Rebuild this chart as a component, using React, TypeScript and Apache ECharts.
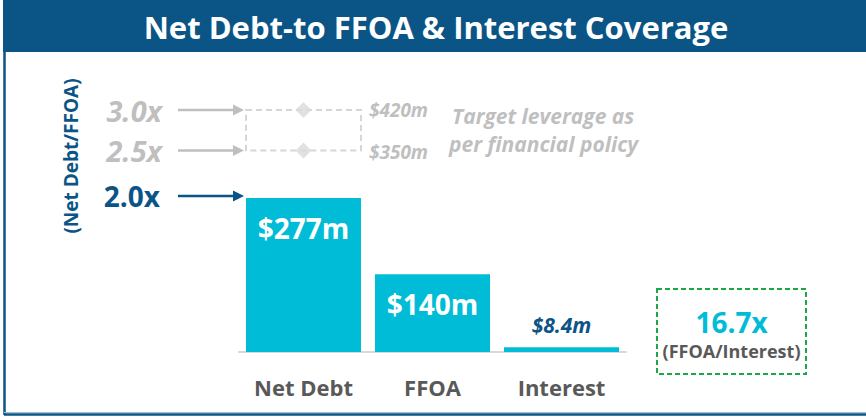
import React, { useEffect, useRef } from "react";
import * as echarts from "echarts";

const categories = ["Net Debt", "FFOA", "Interest"];
const values = [277, 140, 8.4];
const barLabels = ["$277m", "$140m", "$8.4m"];
const targetRatios = [3.0, 2.5];
const targetRatioLabels = ["3.0x", "2.5x"];
const targetAmountLabels = ["$420m", "$350m"];
const currentRatioLabel = "2.0x";
const coverageLabel = "16.7x";
const coverageCaption = "(FFOA/Interest)";
const titleText = "Net Debt-to FFOA & Interest Coverage";
const axisTitle = "(Net Debt/FFOA)";
const noteLines = ["Target leverage as", "per financial policy"];

const FONT = "'Open Sans', sans-serif";
const BLUE = "#0b5586";
const CYAN = "#00bcd6";
const GREY = "#bfbfbf";
const DARK = "#595959";

export default function App() {
  const ref = useRef<HTMLDivElement>(null);
  useEffect(() => {
    if (!ref.current) return;
    const chart = echarts.init(ref.current, undefined, { renderer: "svg" });
    chart.setOption({
      animation: false,
      grid: { left: 239, right: 240, top: 102, bottom: 66 },
      xAxis: {
        type: "category",
        data: categories,
        axisLine: { lineStyle: { color: "#d9d9d9", width: 2 } },
        axisTick: { show: false },
        axisLabel: { color: DARK, fontSize: 22, fontWeight: "bold", fontFamily: FONT, margin: 24 },
      },
      yAxis: [
        { type: "value", min: 0, max: 450, show: false, splitLine: { show: false } },
        { type: "value", min: 0, max: 3.1, show: false, splitLine: { show: false } },
      ],
      series: [
        {
          type: "bar",
          barWidth: 115,
          data: values.map((v, i) => ({
            value: v,
            label:
              i < 2
                ? { show: true, position: "insideTop", distance: 16, formatter: barLabels[i], color: "#fff", fontSize: 28, fontWeight: "bold", fontFamily: FONT }
                : { show: true, position: "top", distance: 12, formatter: barLabels[i], color: BLUE, fontSize: 21, fontWeight: "bold", fontStyle: "italic", fontFamily: FONT },
          })),
          itemStyle: { color: CYAN },
        },
        {
          type: "scatter",
          yAxisIndex: 1,
          symbol: "diamond",
          symbolSize: 16,
          clip: false,
          itemStyle: { color: "#d9d9d9" },
          data: targetRatios.map((r) => [categories[0], r]),
          z: 5,
        },
      ],
    });

    const p = (cat: string, v: number, yi = 0) =>
      chart.convertToPixel({ xAxisIndex: 0, yAxisIndex: yi }, [cat, v]) as number[];
    const c0 = p(categories[0], values[0]);
    const half = 57.5;
    const boxL = c0[0] - half;
    const boxR = c0[0] + half;
    const yT = targetRatios.map((r) => p(categories[0], r, 1)[1]);
    const yCur = c0[1] - 2;

    const arrow = (y: number, color: string, x1: number, x2: number) => [
      { type: "line", shape: { x1, y1: y, x2: x2 - 9, y2: y }, style: { stroke: color, lineWidth: 2.5 } },
      { type: "polygon", shape: { points: [[x2 - 11, y - 5.5], [x2, y], [x2 - 11, y + 5.5]] }, style: { fill: color } },
    ];

    const graphic: any[] = [
      { type: "rect", shape: { x: 3, y: 0, width: 863, height: 52 }, style: { fill: BLUE } },
      { type: "text", x: 436, y: 27, style: { text: titleText, fill: "#fff", font: `bold 31px ${FONT}`, align: "center", verticalAlign: "middle" } },
      { type: "line", shape: { x1: 4.5, y1: 52, x2: 4.5, y2: 415 }, style: { stroke: BLUE, lineWidth: 2.5 } },
      { type: "line", shape: { x1: 4, y1: 414.5, x2: 866, y2: 414.5 }, style: { stroke: BLUE, lineWidth: 2.5 } },
      { type: "line", shape: { x1: 4, y1: 412.5, x2: 866, y2: 412.5 }, style: { stroke: "#9dbcd4", lineWidth: 1 } },
      { type: "text", x: 71, y: 156, rotation: Math.PI / 2, style: { text: axisTitle, fill: BLUE, font: `bold 19px ${FONT}`, align: "center", verticalAlign: "middle" } },
      { type: "rect", shape: { x: boxL, y: yT[0], width: boxR - boxL, height: yT[1] - yT[0] }, style: { fill: "none", stroke: "#d6d6d6", lineWidth: 2, lineDash: [6, 4] }, z: 1 },
      ...arrow(yT[0], GREY, 178, boxL - 2),
      ...arrow(yT[1], GREY, 178, boxL - 2),
      ...arrow(yCur, BLUE, 178, boxL - 2),
      { type: "text", x: 162, y: yT[0], style: { text: targetRatioLabels[0], fill: GREY, font: `italic bold 29px ${FONT}`, align: "right", verticalAlign: "middle" } },
      { type: "text", x: 162, y: yT[1], style: { text: targetRatioLabels[1], fill: GREY, font: `italic bold 29px ${FONT}`, align: "right", verticalAlign: "middle" } },
      { type: "text", x: 160, y: yCur, style: { text: currentRatioLabel, fill: BLUE, font: `bold 28px ${FONT}`, align: "right", verticalAlign: "middle" } },
      { type: "text", x: boxR + 8, y: yT[0], style: { text: targetAmountLabels[0], fill: GREY, font: `italic bold 19px ${FONT}`, align: "left", verticalAlign: "middle" } },
      { type: "text", x: boxR + 8, y: yT[1] + 2, style: { text: targetAmountLabels[1], fill: GREY, font: `italic bold 19px ${FONT}`, align: "left", verticalAlign: "middle" } },
      { type: "text", x: 452, y: 116, style: { text: noteLines[0], fill: GREY, font: `italic bold 21px ${FONT}`, align: "left", verticalAlign: "middle" } },
      { type: "text", x: 449, y: 144, style: { text: noteLines[1], fill: GREY, font: `italic bold 21px ${FONT}`, align: "left", verticalAlign: "middle" } },
      { type: "rect", shape: { x: 657, y: 289, width: 149, height: 85 }, style: { fill: "none", stroke: "#1fa64a", lineWidth: 2, lineDash: [5, 3] } },
      { type: "text", x: 731.5, y: 322, style: { text: coverageLabel, fill: CYAN, font: `bold 28px ${FONT}`, align: "center", verticalAlign: "middle" } },
      { type: "text", x: 731.5, y: 351, style: { text: coverageCaption, fill: DARK, font: `bold 18px ${FONT}`, align: "center", verticalAlign: "middle" } },
    ];
    chart.setOption({ graphic });
    return () => chart.dispose();
  }, []);
  return (
    <div
      ref={ref}
      style={{ position: "fixed", left: 0, top: 0, width: 866, height: 418, background: "#fff" }}
    />
  );
}
